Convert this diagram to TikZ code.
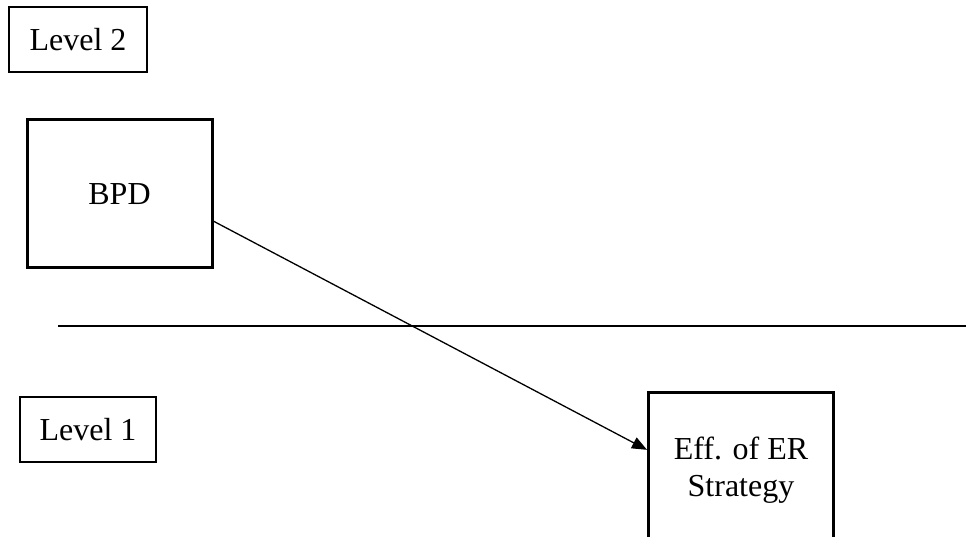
\documentclass[tikz,border=0pt]{standalone}
\usepackage{fontspec}
\setmainfont{Liberation Serif}
\usetikzlibrary{arrows.meta,calc}
\begin{document}
\begin{tikzpicture}[x=1pt,y=-1pt,
  every node/.style={font=\fontsize{32}{37}\selectfont, inner sep=0pt},
  thinbox/.style={draw, line width=1.4pt},
  thickbox/.style={draw, line width=3pt},
  conn/.style={line width=1.3pt, -{Triangle[length=15pt,width=12pt]}},
  divider/.style={line width=1.6pt}]
\useasboundingbox (0,0) rectangle (966,537);
\clip (0,0) rectangle (966,537);
\node[thinbox, minimum width=138pt, minimum height=65pt] (lvl2) at (78,39.5) {Level 2};
\node[thinbox, minimum width=136pt, minimum height=65pt] (lvl1) at (88,429.5) {Level 1};
\node[thickbox, minimum width=185pt, minimum height=148pt] (bpd) at (119.5,194) {BPD};
\node[thickbox, minimum width=185pt, minimum height=156pt, align=center, anchor=north west] (eff) at (647,391) {Eff. of ER\\Strategy};
\coordinate (lineL) at (58,326);
\coordinate (lineR) at (966,326);
\draw[divider] (lineL) -- (lineR);
\draw[conn] ($(bpd.north east)!0.68!(bpd.south east)$) -- ($(eff.north west)!0.37!(eff.south west)$);
\end{tikzpicture}
\end{document}
